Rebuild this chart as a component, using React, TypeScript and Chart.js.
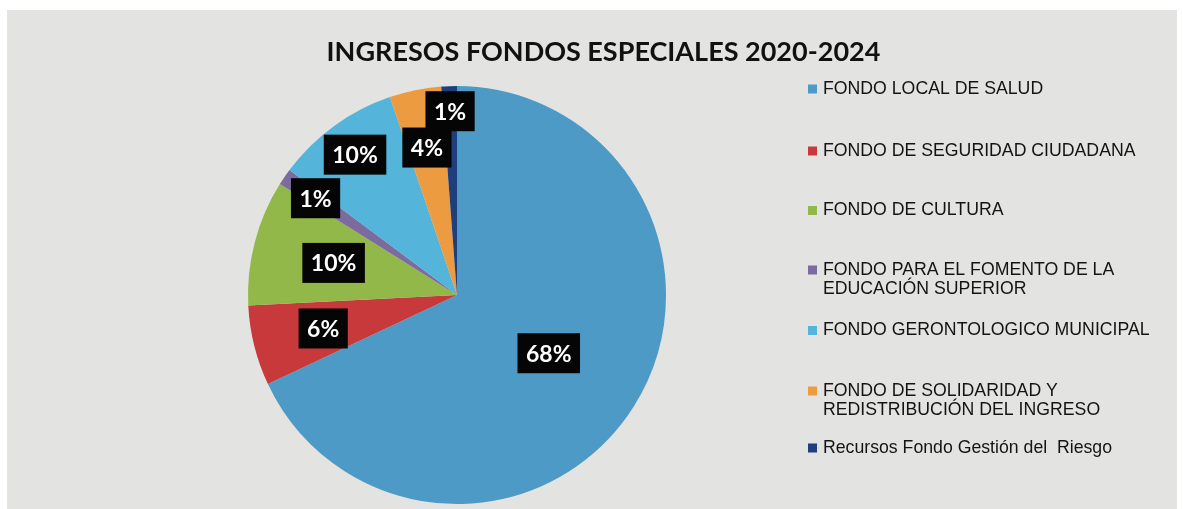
import React, { useEffect, useRef } from 'react';
import { Chart, registerables } from 'chart.js';

Chart.register(...registerables);

const chartTitle = 'INGRESOS FONDOS ESPECIALES 2020-2024';

const categories = [
  'FONDO LOCAL DE SALUD',
  'FONDO DE SEGURIDAD CIUDADANA',
  'FONDO DE CULTURA',
  'FONDO PARA EL FOMENTO DE LA EDUCACIÓN SUPERIOR',
  'FONDO GERONTOLOGICO MUNICIPAL',
  'FONDO DE SOLIDARIDAD Y REDISTRIBUCIÓN DEL INGRESO',
  'Recursos Fondo Gestión del  Riesgo',
];

const shares = [68.0, 6.2, 9.7, 1.3, 9.6, 4.0, 1.2];

const sliceColors = ['#4d9ac7', '#c8393b', '#93b84a', '#7b6b9e', '#54b4da', '#ec9b40', '#1e3f7c'];

// label radial placement (fraction of radius) per slice
const labelRadius = [0.52, 0.66, 0.61, 0.82, 0.83, 0.72, 0.88];
// legend first-line y per item
const legendY = [89, 151, 210.5, 270, 330.5, 391, 448];

const backgroundPlugin = {
  id: 'bgPanel',
  beforeDraw(chart: any) {
    const { ctx, width, height } = chart;
    ctx.save();
    ctx.fillStyle = '#ffffff';
    ctx.fillRect(0, 0, width, height);
    ctx.fillStyle = '#e3e3e1';
    ctx.fillRect(7, 10, 1170, height - 10);
    ctx.restore();
  },
};

const titlePlugin = {
  id: 'customTitle',
  afterDraw(chart: any) {
    const { ctx } = chart;
    ctx.save();
    ctx.font = 'bold 27px Lato, "Open Sans", sans-serif';
    ctx.fillStyle = '#111111';
    ctx.textAlign = 'center';
    ctx.textBaseline = 'alphabetic';
    ctx.fillText(chartTitle, 603.5, 61);
    ctx.restore();
  },
};

const dataLabelPlugin = {
  id: 'pctLabels',
  afterDatasetsDraw(chart: any) {
    const { ctx } = chart;
    const meta = chart.getDatasetMeta(0);
    const data = chart.data.datasets[0].data as number[];
    const total = data.reduce((a, b) => a + b, 0);
    ctx.save();
    ctx.font = 'bold 23px Lato, "Open Sans", sans-serif';
    ctx.textAlign = 'center';
    ctx.textBaseline = 'middle';
    meta.data.forEach((arc: any, i: number) => {
      const p = arc.getProps(['x', 'y', 'startAngle', 'endAngle', 'outerRadius'], true);
      const mid = (p.startAngle + p.endAngle) / 2;
      const r = p.outerRadius * labelRadius[i];
      const x = p.x + Math.cos(mid) * r;
      const y = p.y + Math.sin(mid) * r;
      const text = Math.round((data[i] / total) * 100) + '%';
      const w = ctx.measureText(text).width + 17;
      const h = 40;
      ctx.fillStyle = '#050505';
      ctx.fillRect(x - w / 2, y - h / 2, w, h);
      ctx.fillStyle = '#ffffff';
      ctx.fillText(text, x, y + 1);
    });
    ctx.restore();
  },
};

function wrap(ctx: CanvasRenderingContext2D, text: string, maxW: number): string[] {
  const words = text.split(' ');
  const lines: string[] = [];
  let cur = '';
  words.forEach((w) => {
    const trial = cur === '' ? w : cur + ' ' + w;
    if (cur !== '' && ctx.measureText(trial).width > maxW) {
      lines.push(cur);
      cur = w;
    } else {
      cur = trial;
    }
  });
  if (cur !== '') lines.push(cur);
  return lines;
}

const legendPlugin = {
  id: 'sideLegend',
  afterDraw(chart: any) {
    const { ctx } = chart;
    const labels = chart.data.labels as string[];
    const colors = chart.data.datasets[0].backgroundColor as string[];
    ctx.save();
    ctx.font = '17.7px "Liberation Sans", Arial, sans-serif';
    ctx.textBaseline = 'middle';
    ctx.textAlign = 'left';
    labels.forEach((label, i) => {
      const y0 = legendY[i];
      ctx.fillStyle = colors[i];
      ctx.fillRect(808, y0 - 4.5, 9, 9);
      ctx.fillStyle = '#141414';
      const lines = wrap(ctx, label, 345);
      lines.forEach((ln, j) => {
        ctx.fillText(ln, 823, y0 + j * 19);
      });
    });
    ctx.restore();
  },
};

export default function App() {
  const ref = useRef<HTMLCanvasElement | null>(null);
  useEffect(() => {
    if (!ref.current) return;
    const chart = new Chart(ref.current, {
      type: 'pie',
      data: {
        labels: categories,
        datasets: [
          {
            data: shares,
            backgroundColor: sliceColors,
            borderWidth: 0,
          },
        ],
      },
      options: {
        animation: false,
        responsive: true,
        maintainAspectRatio: false,
        layout: { padding: { left: 248, right: 517, top: 86, bottom: 5 } },
        plugins: {
          legend: { display: false },
          title: { display: false },
          tooltip: { enabled: false },
        },
      },
      plugins: [backgroundPlugin, dataLabelPlugin, titlePlugin, legendPlugin],
    });
    return () => chart.destroy();
  }, []);
  return (
    <div style={{ position: 'fixed', left: 0, top: 0, width: 1183, height: 509 }}>
      <canvas ref={ref} />
    </div>
  );
}
